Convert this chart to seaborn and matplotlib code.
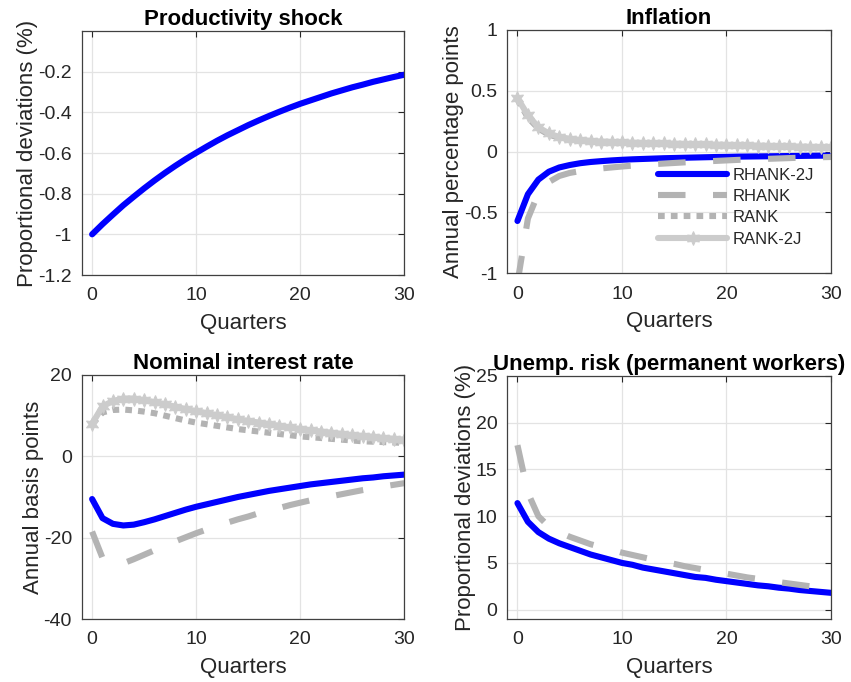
import numpy as np
import pandas as pd
import matplotlib
matplotlib.use("Agg")
import matplotlib.pyplot as plt
import seaborn as sns

quarters = list(range(31))

prod_shock = [-1.000, -0.950, -0.903, -0.857, -0.815, -0.774, -0.735, -0.698, -0.663, -0.630,
              -0.599, -0.569, -0.540, -0.513, -0.488, -0.463, -0.440, -0.418, -0.397, -0.377,
              -0.358, -0.341, -0.324, -0.307, -0.292, -0.277, -0.264, -0.250, -0.238, -0.226, -0.215]

infl_rhank2j = [-0.57, -0.35, -0.23, -0.165, -0.13, -0.11, -0.095, -0.085, -0.078, -0.072,
                -0.067, -0.063, -0.060, -0.057, -0.054, -0.052, -0.050, -0.048, -0.046, -0.044,
                -0.043, -0.041, -0.040, -0.039, -0.038, -0.037, -0.036, -0.035, -0.034, -0.033, -0.032]
infl_rhank = [-1.08, -0.55, -0.34, -0.25, -0.20, -0.175, -0.160, -0.148, -0.138, -0.130,
              -0.122, -0.115, -0.109, -0.103, -0.098, -0.093, -0.088, -0.084, -0.080, -0.076,
              -0.072, -0.068, -0.065, -0.062, -0.059, -0.056, -0.053, -0.050, -0.048, -0.046, -0.044]
infl_rank = [0.43, 0.28, 0.19, 0.14, 0.115, 0.100, 0.090, 0.083, 0.078, 0.074,
             0.071, 0.068, 0.066, 0.064, 0.062, 0.060, 0.058, 0.056, 0.054, 0.052,
             0.050, 0.048, 0.046, 0.044, 0.042, 0.040, 0.038, 0.036, 0.034, 0.032, 0.030]
infl_rank2j = [0.44, 0.30, 0.20, 0.15, 0.120, 0.105, 0.095, 0.088, 0.083, 0.079,
               0.076, 0.073, 0.071, 0.069, 0.067, 0.065, 0.063, 0.061, 0.059, 0.057,
               0.055, 0.053, 0.051, 0.049, 0.047, 0.045, 0.043, 0.041, 0.039, 0.037, 0.035]

rate_rhank2j = [-10.5, -15.2, -16.6, -17.0, -16.8, -16.2, -15.5, -14.7, -13.9, -13.1,
                -12.4, -11.8, -11.2, -10.6, -10.0, -9.5, -9.0, -8.5, -8.1, -7.7,
                -7.3, -6.9, -6.6, -6.3, -6.0, -5.7, -5.4, -5.2, -4.9, -4.7, -4.5]
rate_rhank = [-18.5, -25.0, -26.5, -26.3, -25.3, -24.2, -23.1, -22.0, -20.9, -19.9,
              -18.9, -18.0, -17.1, -16.3, -15.5, -14.8, -14.0, -13.3, -12.7, -12.0,
              -11.4, -10.8, -10.3, -9.8, -9.3, -8.8, -8.3, -7.9, -7.4, -7.0, -6.6]
rate_rank = [8.0, 10.8, 11.4, 11.5, 11.3, 11.0, 10.6, 10.0, 9.4, 8.8,
             8.3, 7.9, 7.5, 7.1, 6.7, 6.4, 6.1, 5.8, 5.5, 5.2,
             4.9, 4.7, 4.5, 4.3, 4.1, 3.9, 3.7, 3.6, 3.5, 3.4, 3.3]
rate_rank2j = [8.0, 12.3, 13.6, 14.2, 14.2, 13.8, 13.3, 12.8, 12.2, 11.6,
               11.1, 10.6, 10.1, 9.6, 9.1, 8.7, 8.3, 7.9, 7.5, 7.1,
               6.7, 6.4, 6.1, 5.8, 5.5, 5.2, 5.0, 4.8, 4.5, 4.3, 4.1]

unemp_rhank2j = [11.4, 9.4, 8.3, 7.6, 7.1, 6.7, 6.3, 5.9, 5.6, 5.3,
                 5.0, 4.8, 4.5, 4.3, 4.1, 3.9, 3.7, 3.5, 3.4, 3.2,
                 3.05, 2.9, 2.75, 2.6, 2.5, 2.35, 2.25, 2.1, 2.0, 1.9, 1.8]
unemp_rhank = [17.6, 12.5, 10.0, 8.9, 8.3, 7.8, 7.4, 7.0, 6.7, 6.4,
               6.1, 5.85, 5.6, 5.35, 5.1, 4.9, 4.65, 4.45, 4.25, 4.05,
               3.85, 3.65, 3.45, 3.3, 3.1, 2.95, 2.8, 2.65, 2.5, 2.4, 2.25]

titles = ["Productivity shock", "Inflation", "Nominal interest rate",
          "Unemp. risk (permanent workers)"]
ylabels = ["Proportional deviations (%)", "Annual percentage points",
           "Annual basis points", "Proportional deviations (%)"]
xlabel = "Quarters"
xticks = [0, 10, 20, 30]
yticks_list = [[-1.2, -1.0, -0.8, -0.6, -0.4, -0.2],
               [-1.0, -0.5, 0.0, 0.5, 1.0],
               [-40, -20, 0, 20],
               [0, 5, 10, 15, 20, 25]]
yticklabels_list = [["-1.2", "-1", "-0.8", "-0.6", "-0.4", "-0.2"],
                    ["-1", "-0.5", "0", "0.5", "1"],
                    ["-40", "-20", "0", "20"],
                    ["0", "5", "10", "15", "20", "25"]]
ylims = [(-1.2, 0.0), (-1.0, 1.0), (-40, 20), (-1, 25)]

sns.set_theme(style="white")
plt.rcParams["font.family"] = ["Liberation Sans", "DejaVu Sans"]

BLUE = "#0000ff"
GRAY_D = "#b3b3b3"
GRAY_L = "#cccccc"
TXT = "#262626"

styles = {
    "RHANK-2J": dict(color=BLUE, linewidth=4.4, linestyle="-"),
    "RHANK": dict(color=GRAY_D, linewidth=4.4, linestyle=(0, (4.5, 4.5))),
    "RANK": dict(color=GRAY_D, linewidth=4.4, linestyle=(0, (1.1, 1.0))),
    "RANK-2J": dict(color=GRAY_L, linewidth=4.4, linestyle="-", marker=(6, 1, 0),
                    markersize=10, markeredgecolor=GRAY_L, markerfacecolor=GRAY_L),
}

fig = plt.figure(figsize=(8.51, 6.82), dpi=100)
rects = [
    [81.7 / 851, 1 - 275 / 682, (404.3 - 81.7) / 851, (275 - 31) / 682],
    [507 / 851, 1 - 273.3 / 682, (831 - 507) / 851, (273.3 - 30) / 682],
    [81.7 / 851, 1 - 619 / 682, (404.3 - 81.7) / 851, (619 - 375) / 682],
    [507 / 851, 1 - 619 / 682, (831 - 507) / 851, (619 - 376) / 682],
]
axes = [fig.add_axes(r) for r in rects]

panels = [
    [("RHANK-2J", prod_shock)],
    [("RHANK-2J", infl_rhank2j), ("RHANK", infl_rhank), ("RANK", infl_rank), ("RANK-2J", infl_rank2j)],
    [("RHANK-2J", rate_rhank2j), ("RHANK", rate_rhank), ("RANK", rate_rank), ("RANK-2J", rate_rank2j)],
    [("RHANK-2J", unemp_rhank2j), ("RHANK", unemp_rhank)],
]

for i, ax in enumerate(axes):
    for name, vals in panels[i]:
        df = pd.DataFrame({"q": quarters, "v": vals})
        sns.lineplot(data=df, x="q", y="v", ax=ax, label=name, legend=False,
                     **styles[name])
    ax.set_xlim(-1, 30)
    ax.set_ylim(*ylims[i])
    ax.set_xticks(xticks)
    ax.set_xticklabels([str(t) for t in xticks])
    ax.set_yticks(yticks_list[i])
    ax.set_yticklabels(yticklabels_list[i])
    ax.grid(True, color="#e3e3e3", linewidth=0.9)
    ax.set_axisbelow(True)
    ax.tick_params(direction="in", top=True, right=True, length=4, width=0.8,
                   colors=TXT, labelsize=14)
    ax.tick_params(axis="x", pad=9)
    ax.tick_params(axis="y", pad=7)
    for s in ax.spines.values():
        s.set_color("#404040")
        s.set_linewidth(0.9)
    ax.set_title(titles[i], fontsize=16, fontweight="bold", color="black", pad=4)
    ax.set_xlabel(xlabel, fontsize=16, color=TXT, labelpad=6)
    ax.set_ylabel(ylabels[i], fontsize=16, color=TXT, labelpad=0)

leg = axes[1].legend(loc="upper left", bbox_to_anchor=(0.447, 0.462), frameon=False,
                     fontsize=12, handlelength=4.1, handletextpad=0.36,
                     labelspacing=0.38, borderaxespad=0, numpoints=1)
for t in leg.get_texts():
    t.set_color(TXT)

fig.savefig("out.png", dpi=100)
